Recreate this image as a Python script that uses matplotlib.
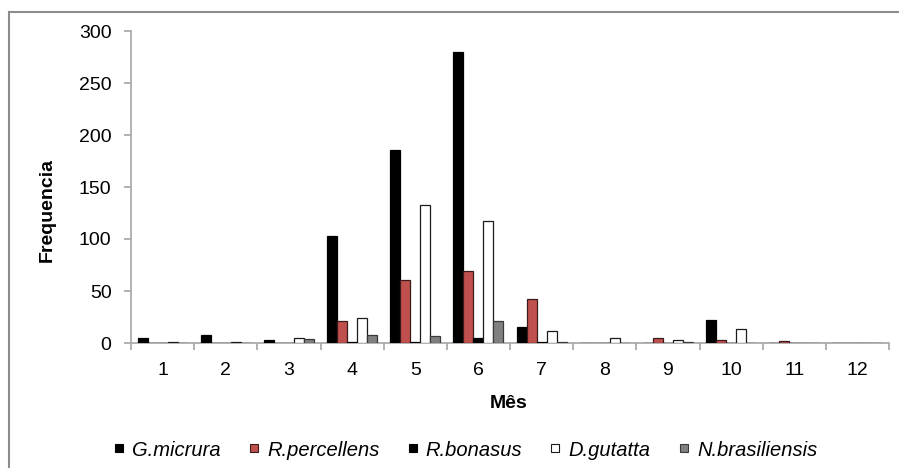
import matplotlib
matplotlib.use("Agg")
import matplotlib.pyplot as plt
from matplotlib.patches import Rectangle
from matplotlib.lines import Line2D
import numpy as np

months = ["1", "2", "3", "4", "5", "6", "7", "8", "9", "10", "11", "12"]
species = ["G.micrura", "R.percellens", "R.bonasus", "D.gutatta", "N.brasiliensis"]
g_micrura = [5, 8, 3, 103, 186, 280, 15, 0, 0, 22, 0, 0]
r_percellens = [0, 0, 0, 21, 61, 69, 42, 0, 5, 3, 2, 0]
r_bonasus = [0, 0, 0, 1, 1, 5, 1, 0, 0, 0, 0, 0]
d_gutatta = [1, 1, 5, 24, 133, 117, 12, 5, 3, 13, 0, 0]
n_brasiliensis = [0, 0, 4, 8, 7, 21, 1, 0, 1, 0, 0, 0]

series = [g_micrura, r_percellens, r_bonasus, d_gutatta, n_brasiliensis]
fills = ["#000000", "#c0504d", "#000000", "#ffffff", "#808080"]
edges = ["#000000", "#3a1a1a", "#000000", "#1a1a1a", "#3a3a3a"]

plt.rcParams['font.family'] = ['Liberation Sans', 'DejaVu Sans']

W, H = 899, 468
fig = plt.figure(figsize=(W / 100, H / 100), dpi=100)
ax = fig.add_axes([131 / W, 1 - 343 / H, 758 / W, 312 / H])

x = np.arange(len(months))
bw = 0.158
for i, (vals, fc, ec, name) in enumerate(zip(series, fills, edges, species)):
    ax.bar(x + (i - 2) * bw, vals, width=bw, color=fc, edgecolor=ec,
           linewidth=0.9, label=name, zorder=3)

ax.set_xlim(-0.5, len(months) - 0.5)
ax.set_ylim(0, 300)
ax.set_yticks(np.arange(0, 301, 50))

axis_col = "#a6a6a6"
for s in ["top", "right"]:
    ax.spines[s].set_visible(False)
for s in ["left", "bottom"]:
    ax.spines[s].set_color(axis_col)
    ax.spines[s].set_linewidth(1.2)

ax.set_xticks(np.arange(-0.5, len(months) + 0.5, 1.0))
ax.set_xticklabels([])
ax.set_xticks(x, minor=True)
ax.set_xticklabels(months, minor=True)
ax.tick_params(axis='x', which='major', length=5, width=1.2, color=axis_col, direction='out')
ax.tick_params(axis='x', which='minor', length=0, pad=14, labelsize=14, labelcolor='#000000')
ax.tick_params(axis='y', length=5, width=1.2, color=axis_col, direction='out', pad=9,
               labelsize=14, labelcolor='#000000')

fig.text(47 / W, 1 - 210 / H, "Frequencia", rotation=90, ha='center', va='center',
         fontsize=14, fontweight='bold')
fig.text(509 / W, 1 - 403 / H, "Mês", ha='center', va='center',
         fontsize=14, fontweight='bold')

handles = [Line2D([], [], linestyle='none', marker='s', markersize=5.2,
                  markerfacecolor=fc, markeredgecolor=ec, markeredgewidth=0.8)
           for fc, ec in zip(fills, edges)]
leg = fig.legend(handles, species, loc='center', bbox_to_anchor=(466 / W, 1 - 450 / H),
                 ncol=5, frameon=False, prop={'size': 14.5, 'style': 'italic'},
                 handlelength=0.4, handletextpad=0.45, columnspacing=1.45)

fig.patches.append(Rectangle((9 / W, -0.5), 2.0, 0.5 + 1 - 12 / H,
                             transform=fig.transFigure, fill=False,
                             edgecolor='#8c8c8c', linewidth=1.5))

fig.savefig("out.png", dpi=100)
